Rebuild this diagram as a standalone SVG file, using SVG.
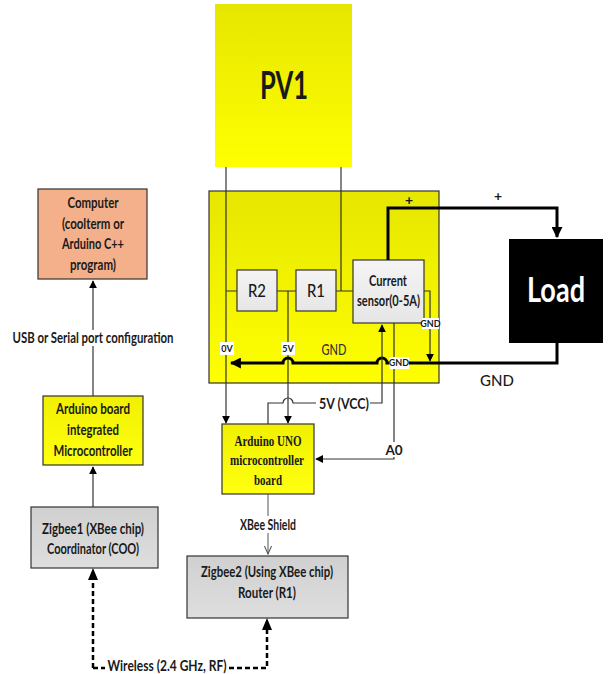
<svg xmlns="http://www.w3.org/2000/svg" width="610" height="674" viewBox="0 0 610 674">
<defs>
<linearGradient id="yel" x1="0" y1="0" x2="0" y2="1"><stop offset="0" stop-color="#e6e600"/><stop offset="1" stop-color="#ffff00"/></linearGradient>
<linearGradient id="yel2" x1="0" y1="0" x2="0" y2="1"><stop offset="0" stop-color="#f0f000"/><stop offset="1" stop-color="#ffff10"/></linearGradient>
<linearGradient id="gry" x1="0" y1="0" x2="0" y2="1"><stop offset="0" stop-color="#d0d0d0"/><stop offset="1" stop-color="#dedede"/></linearGradient>
<linearGradient id="wht" x1="0" y1="0" x2="0" y2="1"><stop offset="0" stop-color="#f4f4f4"/><stop offset="1" stop-color="#e6e6e6"/></linearGradient>
<marker id="ah" viewBox="0 0 10 10" refX="9" refY="5" markerWidth="8" markerHeight="8" markerUnits="userSpaceOnUse" orient="auto"><path d="M0,0 L10,5 L0,10 z" fill="#000"/></marker>
<marker id="ahb" viewBox="0 0 10 10" refX="9" refY="5" markerWidth="11" markerHeight="11" markerUnits="userSpaceOnUse" orient="auto"><path d="M0,0 L10,5 L0,10 z" fill="#000"/></marker>
<marker id="aho" viewBox="0 0 10 10" refX="9" refY="5" markerWidth="9" markerHeight="9" markerUnits="userSpaceOnUse" orient="auto"><path d="M0,1 L9,5 L0,9" fill="none" stroke="#555" stroke-width="1.2"/></marker>
</defs>
<style>
text{font-family:Lato,"Open Sans","Liberation Sans",sans-serif;fill:#1a1a1a;text-anchor:middle}
.t{font-size:14.5px;font-weight:700}
.s{font-size:9px;font-weight:700}
.ser{font-family:"Liberation Serif","DejaVu Serif",serif;font-size:14.5px;font-weight:700}
.w{stroke:#333;stroke-width:1.2;fill:none}
.k{stroke:#000;stroke-width:3;fill:none}
.bx{stroke:#333;stroke-width:1.2}
.lb{fill:#fff}
</style>

<g id="pv1"><rect x="215" y="4" width="137" height="163" fill="url(#yel)"/><text x="284" y="99" style="font-size:39px;font-weight:700" textLength="48" lengthAdjust="spacingAndGlyphs">PV1</text></g>
<g id="board"><rect x="209" y="191" width="230" height="192" fill="url(#yel)" stroke="#333" stroke-width="1.2"/><text x="334" y="355" style="font-size:15px;font-weight:500;fill:#333" textLength="25" lengthAdjust="spacingAndGlyphs">GND</text></g>
<g id="r2"><rect x="237" y="270" width="40" height="41" fill="url(#wht)" class="bx"/><text x="257" y="297" style="font-size:17px;font-weight:500" textLength="18" lengthAdjust="spacingAndGlyphs">R2</text></g>
<g id="r1"><rect x="296" y="270" width="40" height="41" fill="url(#wht)" class="bx"/><text x="316" y="297" style="font-size:17px;font-weight:500" textLength="18" lengthAdjust="spacingAndGlyphs">R1</text></g>
<g id="sensor"><rect x="353" y="260" width="71" height="63" fill="url(#wht)" class="bx"/><text x="388" y="286" class="t" textLength="38" lengthAdjust="spacingAndGlyphs">Current</text><text x="388.5" y="306" class="t" textLength="63" lengthAdjust="spacingAndGlyphs">sensor(0-5A)</text></g>
<g id="load"><rect x="509" y="239" width="94" height="104" fill="#000"/><text x="556" y="302" style="font-size:34px;font-weight:700;fill:#fff" textLength="58" lengthAdjust="spacingAndGlyphs">Load</text></g>
<g id="computer"><rect x="38" y="189" width="109" height="90" fill="#f4b08a" class="bx"/><text x="93" y="208" class="t" textLength="51" lengthAdjust="spacingAndGlyphs">Computer</text><text x="93" y="229" class="t" textLength="62" lengthAdjust="spacingAndGlyphs">(coolterm or</text><text x="93" y="249" class="t" textLength="62" lengthAdjust="spacingAndGlyphs">Arduino C++</text><text x="93" y="270" class="t" textLength="46" lengthAdjust="spacingAndGlyphs">program)</text></g>
<g id="arduino-board"><rect x="43" y="396" width="100" height="69" fill="url(#yel2)" class="bx"/><text x="93" y="414" class="t" textLength="74" lengthAdjust="spacingAndGlyphs">Arduino board</text><text x="93" y="435" class="t" textLength="52" lengthAdjust="spacingAndGlyphs">integrated</text><text x="93" y="456" class="t" textLength="79" lengthAdjust="spacingAndGlyphs">Microcontroller</text></g>
<g id="zigbee1"><rect x="31" y="507" width="127" height="61" fill="url(#gry)" class="bx"/><text x="93" y="534" class="t" textLength="102" lengthAdjust="spacingAndGlyphs">Zigbee1  (XBee chip)</text><text x="93" y="554" class="t" textLength="92" lengthAdjust="spacingAndGlyphs">Coordinator (COO)</text></g>
<g id="arduino-uno"><rect x="222" y="424" width="92" height="70" fill="url(#yel2)" class="bx"/><text x="268" y="446" class="ser" textLength="67" lengthAdjust="spacingAndGlyphs">Arduino UNO</text><text x="267" y="465" class="ser" textLength="74" lengthAdjust="spacingAndGlyphs">microcontroller</text><text x="268" y="485" class="ser" textLength="28" lengthAdjust="spacingAndGlyphs">board</text></g>
<g id="zigbee2"><rect x="187" y="556" width="161" height="62" fill="url(#gry)" class="bx"/><text x="267" y="577" class="t" textLength="132" lengthAdjust="spacingAndGlyphs">Zigbee2  (Using XBee chip)</text><text x="267" y="598" class="t" textLength="58" lengthAdjust="spacingAndGlyphs">Router (R1)</text></g>

<g id="connectors">
<path class="w" d="M226,167 V423" marker-end="url(#ah)"/>
<path class="w" d="M341,167 V291"/>
<path class="w" d="M226,291 H237 M277,291 H296 M336,291 H353"/>
<path class="w" d="M288,291 V423" marker-end="url(#ah)"/>
<path class="w" d="M424,291 H430 V361" marker-end="url(#ah)"/>
<path class="k" d="M388,260 V208 H557 V237" marker-end="url(#ahb)"/>
<path class="k" d="M557,343 V363 H387 a5,5 0 0 0 -10,0 H293 a5,5 0 0 0 -10,0 H231" marker-end="url(#ahb)"/>
<path class="w" d="M268,424 V403 H283 a5,5 0 0 1 10,0 H382 V325" marker-end="url(#ah)"/>
<path class="w" d="M394,323 V459 H316" marker-end="url(#ah)"/>
<path class="w" d="M93,396 V281" marker-end="url(#ah)"/>
<path class="w" d="M93,507 V467" marker-end="url(#ah)"/>
<path d="M268,494 V554" stroke="#555" stroke-width="1" fill="none" marker-end="url(#aho)"/>
<path d="M93,668 V576 M93,668 H267 V626" stroke="#000" stroke-width="2.5" stroke-dasharray="5,3" fill="none"/>
<path d="M88,580 L93,568 L98,580 z M262,630 L267,618 L272,630 z" fill="#000"/>
<rect x="10" y="330" width="166" height="16" class="lb"/>
<text x="93" y="343" class="t" textLength="161" lengthAdjust="spacingAndGlyphs">USB or Serial port configuration</text>
<rect x="220" y="342" width="14" height="13" class="lb"/><text x="227" y="352" class="s">0V</text>
<rect x="281" y="342" width="14" height="13" class="lb"/><text x="288" y="352" class="s">5V</text>
<rect x="389" y="357" width="20" height="12" class="lb"/><text x="399" y="366" class="s">GND</text>
<rect x="422" y="318" width="17" height="11" class="lb"/><text x="430.5" y="327" class="s">GND</text>
<rect x="316" y="396" width="54" height="16" class="lb"/><text x="344" y="409" style="font-size:15px;font-weight:700" textLength="50" lengthAdjust="spacingAndGlyphs">5V (VCC)</text>
<rect x="385" y="442" width="17" height="15" class="lb"/><text x="394" y="455" style="font-size:13.5px;font-weight:700">A0</text>
<text x="409" y="205" style="font-size:14px;font-weight:700">+</text>
<text x="498" y="201" style="font-size:14px;font-weight:700">+</text>
<text x="497" y="386" style="font-size:15px;font-weight:500">GND</text>
<rect x="233" y="516" width="70" height="17" class="lb"/><text x="268" y="530" class="t" textLength="56" lengthAdjust="spacingAndGlyphs">XBee Shield</text>
<rect x="105" y="659" width="123" height="15" class="lb"/><text x="167" y="671" class="t" textLength="119" lengthAdjust="spacingAndGlyphs">Wireless (2.4 GHz, RF)</text>
</g>
</svg>
